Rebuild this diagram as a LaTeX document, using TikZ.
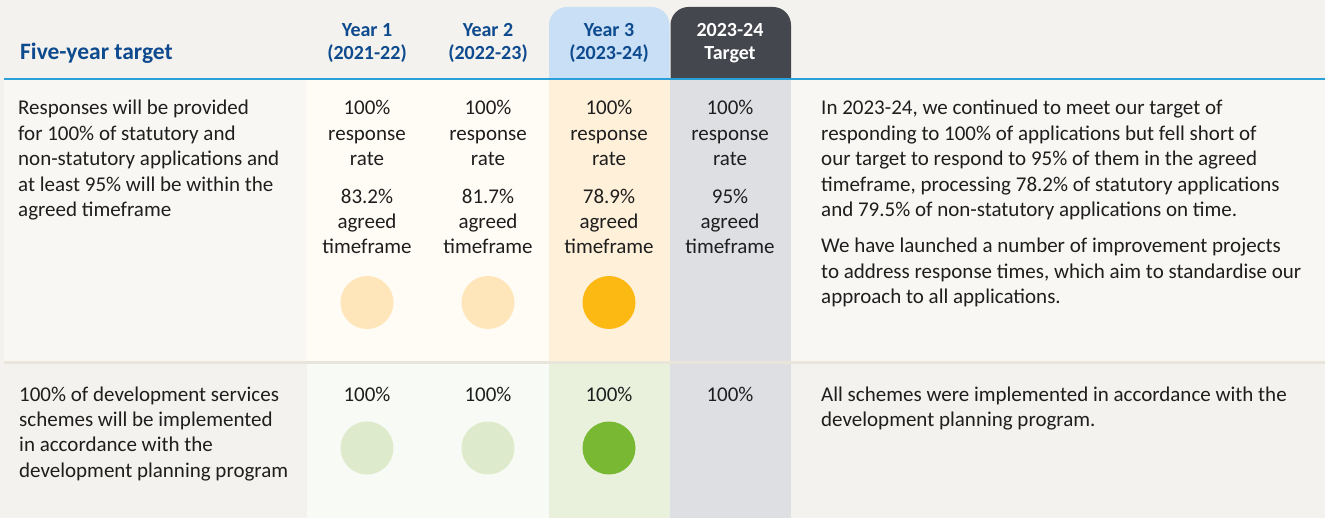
\documentclass[tikz,border=0pt]{standalone}
\usepackage{fontspec}
\setmainfont{Carlito}
\definecolor{paper}{HTML}{F3F2EE}
\definecolor{panel}{HTML}{F8F7F4}
\definecolor{cream}{HTML}{FFFCF5}
\definecolor{peach}{HTML}{FFF0D9}
\definecolor{mint}{HTML}{F8FAF5}
\definecolor{sage}{HTML}{E9F1DD}
\definecolor{slate}{HTML}{DEDFE3}
\definecolor{rule}{HTML}{E9E5DB}
\definecolor{sky}{HTML}{2A9FD8}
\definecolor{tabblue}{HTML}{C8DFF5}
\definecolor{tabdark}{HTML}{45474F}
\definecolor{navy}{HTML}{0E4A8E}
\definecolor{ink}{HTML}{1E1E1E}
\definecolor{amberpale}{HTML}{FFE6BA}
\definecolor{amber}{HTML}{FDB913}
\definecolor{greenpale}{HTML}{DDEACB}
\definecolor{green}{HTML}{78B833}
\begin{document}
\begin{tikzpicture}[x=1pt,y=-1pt,
    body/.style={inner sep=0pt, text=ink, font=\fontsize{21}{25.4}\selectfont},
    cell/.style={body, anchor=base, align=center},
    head/.style={inner sep=0pt, anchor=base, align=center, text=navy, font=\bfseries\fontsize{20}{23}\selectfont},
    dot/.style={circle, minimum size=53pt, inner sep=0pt}]
    \useasboundingbox (0,0) rectangle (1325,518);
    \fill[paper] (0,0) rectangle (1325,518);
    % header tabs
    \fill[tabblue] (549,80) [rounded corners=18pt] -- (549,7) -- (669.5,7) [sharp corners] -- (669.5,80) -- cycle;
    \fill[tabdark] (670.5,80) [rounded corners=18pt] -- (670.5,7) -- (791,7) [sharp corners] -- (791,80) -- cycle;
    % row fills
    \fill[panel] (4,80) rectangle (1325,362);
    \fill[cream] (307,80) rectangle (549,362);
    \fill[peach] (549,80) rectangle (670,362);
    \fill[mint] (307,363) rectangle (549,518);
    \fill[sage] (549,363) rectangle (670,518);
    \fill[slate] (670,80) rectangle (791,518);
    \draw[rule, line width=2.5pt] (4,362.5) -- (1325,362.5);
    \draw[sky, line width=2.4pt] (4,79) -- (1325,79);
    % header texts (multi-line nodes sit on their last baseline)
    \node[head, anchor=base west, font=\bfseries\fontsize{23.5}{27}\selectfont] (goal) at (20,60) {Five-year target};
    \node[head] (y1) at (367,60) {Year 1\\(2021-22)};
    \node[head] (y2) at (488,60) {Year 2\\(2022-23)};
    \node[head] (y3) at (609,60) {Year 3\\(2023-24)};
    \node[head, text=white] (tg) at (730,60) {2023-24\\Target};
    % row 1
    \node[body, anchor=base west, align=left] (goal1) at (18,216.6) {Responses will be provided\\for 100\% of statutory and\\non-statutory applications and\\at least 95\% will be within the\\agreed timeframe};
    \node[cell] (r1y1) at (367,254) {100\%\\response\\rate\\[12pt]83.2\%\\agreed\\timeframe};
    \node[cell] (r1y2) at (488,254) {100\%\\response\\rate\\[12pt]81.7\%\\agreed\\timeframe};
    \node[cell] (r1y3) at (609,254) {100\%\\response\\rate\\[12pt]78.9\%\\agreed\\timeframe};
    \node[cell] (r1tg) at (730,254) {100\%\\response\\rate\\[12pt]95\%\\agreed\\timeframe};
    \node[body, anchor=base west, align=left] (note1) at (821,303.8) {In 2023-24, we continued to meet our target of\\responding to 100\% of applications but fell short of\\our target to respond to 95\% of them in the agreed\\timeframe, processing 78.2\% of statutory applications\\and 79.5\% of non-statutory applications on time.\\[11pt]We have launched a number of improvement projects\\to address response times, which aim to standardise our\\approach to all applications.};
    \node[dot, fill=amberpale] (d1y1) at (367,302.5) {};
    \node[dot, fill=amberpale] (d1y2) at (488,302.5) {};
    \node[dot, fill=amber] (d1y3) at (609,302.5) {};
    % row 2
    \node[body, anchor=base west, align=left] (goal2) at (19,477.2) {100\% of development services\\schemes will be implemented\\in accordance with the\\development planning program};
    \node[cell] (r2y1) at (367,401) {100\%};
    \node[cell] (r2y2) at (488,401) {100\%};
    \node[cell] (r2y3) at (609,401) {100\%};
    \node[cell] (r2tg) at (730,401) {100\%};
    \node[body, anchor=base west, align=left] (note2) at (821,426.4) {All schemes were implemented in accordance with the\\development planning program.};
    \node[dot, fill=greenpale] (d2y1) at (367,448) {};
    \node[dot, fill=greenpale] (d2y2) at (488,448) {};
    \node[dot, fill=green] (d2y3) at (609,448) {};
\end{tikzpicture}
\end{document}
